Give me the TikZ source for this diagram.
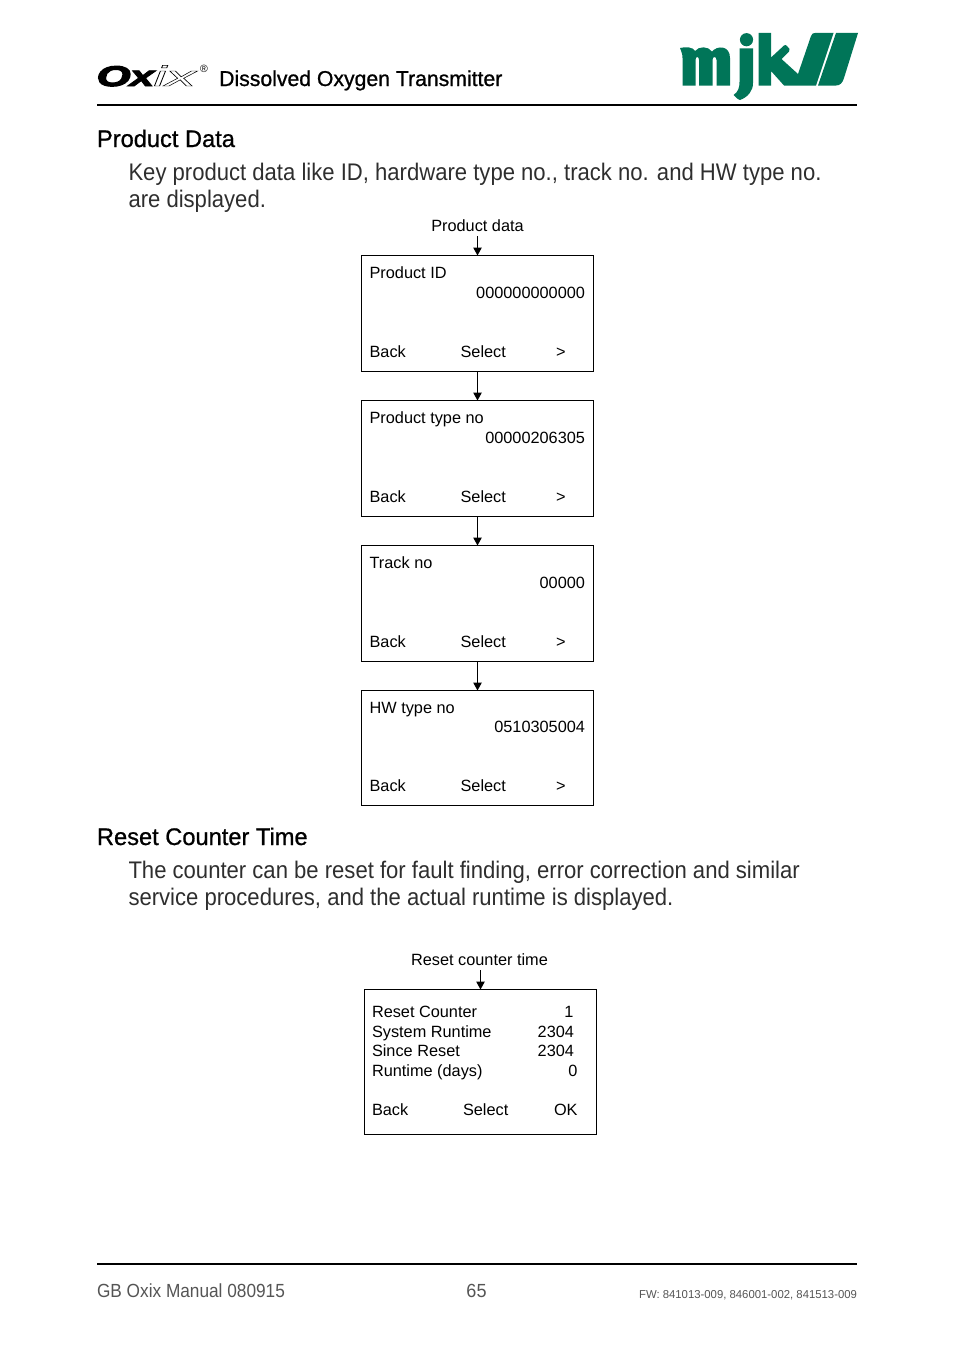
\documentclass[tikz,border=0pt]{standalone}
\usepackage{fontspec}
\setmainfont{Liberation Sans}
\usetikzlibrary{arrows.meta}
\definecolor{mjkgreen}{RGB}{0,117,88}
\definecolor{foot}{RGB}{85,85,85}
\newcommand{\fsz}[1]{\fontsize{#1}{#1}\selectfont}
\newcommand{\outl}[3]{\special{pdf:code q #1 Tr #2 w}#3\special{pdf:code Q}}
\newcommand{\stretchf}[1]{\addfontfeature{FakeStretch=#1}}
\tikzset{
 x=1pt,y=-1pt,
 lbl/.style={anchor=base west,inner sep=0pt,outer sep=0pt,font=\fsz{16.3}},
 lblr/.style={anchor=base east,inner sep=0pt,outer sep=0pt,font=\fsz{16.3}},
 lblc/.style={anchor=base,inner sep=0pt,outer sep=0pt,font=\fsz{16.3}},
 head/.style={anchor=base west,inner sep=0pt,outer sep=0pt,font=\fsz{24}\stretchf{0.985}},
 body/.style={anchor=base west,inner sep=0pt,outer sep=0pt,font=\fsz{24}\stretchf{0.92},text=black!82},
 foottext/.style={inner sep=0pt,outer sep=0pt,text=foot},
 panel/.style={draw,line width=1pt,minimum width=232pt,inner sep=0pt,outer sep=0pt,anchor=north west},
 flow/.style={draw,line width=1pt,-{Triangle[length=8pt,width=8.5pt]}},
 rule/.style={draw,line width=1.8pt},
 logo/.style={fill=mjkgreen,draw=none},
}
\begin{document}
\begin{tikzpicture}
\useasboundingbox (0,0) rectangle (954,1354);
% header
\node[anchor=base west,inner sep=0pt,font=\fsz{29}] (oxix) at (96.5,86) {%
 \scalebox{1.5}[0.98]{\bfseries\itshape\outl{2}{1.2}{O}}\kern-1pt%
 \scalebox{1.55}[1.0]{\bfseries\itshape\outl{2}{0.7}{x}}\kern-1pt%
 \scalebox{2.0}[0.98]{\itshape\outl{1}{0.45}{i}}\kern-1pt%
 \scalebox{2.1}[0.98]{\itshape\outl{1}{0.4}{x}}};
\node[anchor=base west,inner sep=0pt,font=\fsz{10.5}] (reg) at (200,73) {®};
\node[anchor=base west,inner sep=0pt,font=\fsz{21.5}\stretchf{0.986}] (title) at (219,86) {\outl{2}{0.2}{Dissolved Oxygen Transmitter}};
\coordinate (ruleAl) at (97,105); \coordinate (ruleAr) at (857,105);
\draw[rule] (ruleAl) -- (ruleAr);
% mjk logo
\fill[logo] (680,48) .. controls (686,46.5) and (693,47) .. (695,51)
  .. controls (699,46) and (708,46) .. (712,51.5)
  .. controls (717,45.5) and (730,45) .. (730,58)
  -- (730,85.5) -- (716.5,85.5) -- (716.5,60) .. controls (716.5,56) and (712.5,56) .. (712.5,60)
  -- (712.5,85.5) -- (699,85.5) -- (699,60) .. controls (699,56) and (695.5,56) .. (695.5,60)
  -- (695.5,85.5) -- (682.5,85.5) -- (682.5,58) .. controls (682.5,54) and (681.5,52) .. (680,48) -- cycle;
\fill[logo] (746.5,39.7) circle[radius=6.6];
\fill[logo] (739.5,48.5) -- (753,48.5) -- (753,83) .. controls (753,91) and (748,97) .. (740,100) .. controls (738,99.5) and (735,97) .. (733.5,95) .. controls (738,92) and (739.5,88) .. (739.5,82) -- cycle;
\fill[logo] (758.5,33) -- (771,33) -- (771,57.5) -- (784,45.5) .. controls (785,44.5) and (786,45) .. (787,46) -- (789.5,49) .. controls (790,50) and (790,50.5) .. (789,51.5) -- (781.5,59) -- (798,74) -- (811,36) .. controls (812,33.5) and (813,33) .. (815,33) -- (833.5,33) -- (816,85.5) -- (784,85.5) -- (771,71) -- (771,85.5) -- (758.5,85.5) -- cycle;
\fill[logo] (836,33) -- (858,33) -- (844,78) .. controls (842.5,83) and (840,85.5) .. (836,85.5) -- (818,85.5) -- cycle;
% product data
\node[head] (h1) at (97,147) {\outl{2}{0.2}{Product Data}};
\node[body] (b1a) at (128.5,180) {Key product data like ID, hardware type no., track no. and HW type no.};
\node[body] (b1b) at (128.5,207) {are displayed.};
\node[lblc] (pd) at (477.5,231) {Product data};
\node[panel,minimum height=116pt] (p1) at (361.5,255.5) {};
\node[panel,minimum height=116pt] (p2) at (361.5,400.5) {};
\node[panel,minimum height=116pt] (p3) at (361.5,545.5) {};
\node[panel,minimum height=115pt] (p4) at (361.5,690.5) {};
\coordinate (pdb) at (p1.north |- 0,236);
\draw[flow] (pdb) -- (p1.north);
\draw[flow] (p1) -- (p2);
\draw[flow] (p2) -- (p3);
\draw[flow] (p3) -- (p4);
\node[lbl] (t1) at (369.6,278) {Product ID};
\node[lblr] (v1) at (585,298) {000000000000};
\node[lbl] (k1) at (369.6,357) {Back};
\node[lbl] (s1) at (460.6,357) {Select};
\node[lbl] (g1) at (556,357) {>};
\node[lbl] (t2) at (369.6,423) {Product type no};
\node[lblr] (v2) at (585,443) {00000206305};
\node[lbl] (k2) at (369.6,502) {Back};
\node[lbl] (s2) at (460.6,502) {Select};
\node[lbl] (g2) at (556,502) {>};
\node[lbl] (t3) at (369.6,568) {Track no};
\node[lblr] (v3) at (585,588) {00000};
\node[lbl] (k3) at (369.6,647) {Back};
\node[lbl] (s3) at (460.6,647) {Select};
\node[lbl] (g3) at (556,647) {>};
\node[lbl] (t4) at (369.6,713) {HW type no};
\node[lblr] (v4) at (585,732) {0510305004};
\node[lbl] (k4) at (369.6,791) {Back};
\node[lbl] (s4) at (460.6,791) {Select};
\node[lbl] (g4) at (556,791) {>};
% reset
\node[head] (h2) at (97,845) {\outl{2}{0.2}{Reset Counter Time}};
\node[body] (b2a) at (128.5,878) {The counter can be reset for fault finding, error correction and similar};
\node[body] (b2b) at (128.5,905) {service procedures, and the actual runtime is displayed.};
\node[lblc] (rc) at (479.5,965) {Reset counter time};
\node[panel,minimum height=145pt] (p5) at (364.5,989.5) {};
\coordinate (rcb) at (p5.north |- 0,970);
\draw[flow] (rcb) -- (p5.north);
\node[lbl] (r1) at (372,1017) {Reset Counter};
\node[lblr] (r1v) at (573.5,1017) {1};
\node[lbl] (r2) at (372,1037) {System Runtime};
\node[lblr] (r2v) at (574,1037) {2304};
\node[lbl] (r3) at (372,1056) {Since Reset};
\node[lblr] (r3v) at (574,1056) {2304};
\node[lbl] (r4) at (372,1076) {Runtime (days)};
\node[lblr] (r4v) at (577.5,1076) {0};
\node[lbl] (k5) at (372,1115) {Back};
\node[lbl] (s5) at (463,1115) {Select};
\node[lbl] (o5) at (554,1115) {OK};
% footer
\coordinate (ruleBl) at (97,1264); \coordinate (ruleBr) at (857,1264);
\draw[rule] (ruleBl) -- (ruleBr);
\node[foottext,anchor=base west,font=\fsz{19}\stretchf{0.908}] (f1) at (97,1297) {GB Oxix Manual 080915};
\node[foottext,anchor=base,font=\fsz{19}\stretchf{0.95}] (f2) at (476.5,1297) {65};
\node[foottext,anchor=base east,font=\fsz{11.5}\stretchf{0.986}] (f3) at (857,1298) {FW: 841013-009, 846001-002, 841513-009};
\end{tikzpicture}
\end{document}
